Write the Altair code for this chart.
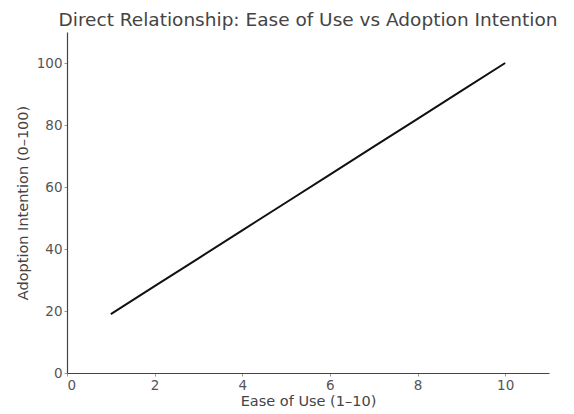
import altair as alt
import pandas as pd

ease = [1, 2, 3, 4, 5, 6, 7, 8, 9, 10]
adoption = [19, 28, 37, 46, 55, 64, 73, 82, 91, 100]
x_ticks = [0, 2, 4, 6, 8, 10]
y_ticks = [0, 20, 40, 60, 80, 100]

df = pd.DataFrame({"ease": ease, "adoption": adoption})

font = "DejaVu Sans"

chart = alt.Chart(df).mark_line(color="#111111", strokeWidth=2).encode(
    x=alt.X("ease:Q", scale=alt.Scale(domain=[0, 11], nice=False, zero=False),
            axis=alt.Axis(values=x_ticks, title="Ease of Use (1–10)", titlePadding=3)),
    y=alt.Y("adoption:Q", scale=alt.Scale(domain=[0, 110], nice=False),
            axis=alt.Axis(values=y_ticks, title="Adoption Intention (0–100)", titlePadding=6)),
).properties(
    width=482,
    height=341,
    title=alt.TitleParams("Direct Relationship: Ease of Use vs Adoption Intention",
                          fontSize=18.5, font=font, fontWeight="normal", color="#444444",
                          anchor="middle", offset=3),
    autosize=alt.AutoSizeParams(type="none"),
    padding={"left": 59, "top": 24, "right": 17, "bottom": 38},
).configure_axis(
    grid=False,
    domainColor="#444444",
    domainWidth=1.2,
    tickColor="#999999",
    tickSize=3,
    labelFont=font,
    labelFontSize=13.5,
    labelColor="#555555",
    labelPadding=2,
    titleFont=font,
    titleFontSize=14.5,
    titleFontWeight="normal",
    titleColor="#444444",
).configure_view(stroke=None)

chart.save("out.html", embed_options={"renderer": "svg", "actions": False})
